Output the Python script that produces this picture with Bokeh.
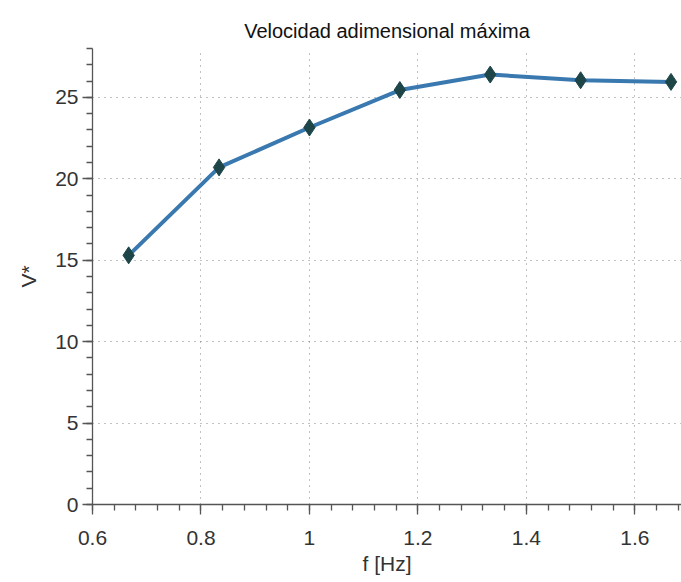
from bokeh.plotting import figure
from bokeh.embed import file_html
from bokeh.resources import INLINE
from bokeh.models import Range1d, SingleIntervalTicker, CustomJSTickFormatter

freq = [2/3, 5/6, 1.0, 7/6, 4/3, 1.5, 5/3]
vstar = [15.3, 20.7, 23.15, 25.45, 26.4, 26.05, 25.95]

title = "Velocidad adimensional máxima"
xlabel = "f [Hz]"
ylabel = "V*"

FONT = "Liberation Sans"

p = figure(width=681, height=582, output_backend="svg", toolbar_location=None,
           x_range=Range1d(0.6, 1.686), y_range=Range1d(0, 28.0),
           min_border_left=92, min_border_right=0, min_border_top=48, min_border_bottom=78,
           title=title)
p.outline_line_color = None
p.background_fill_color = "white"
p.border_fill_color = "white"

p.title.align = "center"
p.title.text_font = FONT
p.title.text_font_size = "20px"
p.title.text_font_style = "normal"
p.title.text_color = "#111111"
p.title.standoff = 14

p.xaxis.ticker = SingleIntervalTicker(interval=0.2, num_minor_ticks=5)
p.yaxis.ticker = SingleIntervalTicker(interval=5, num_minor_ticks=5)
p.xaxis.formatter = CustomJSTickFormatter(code="return String(Math.round(tick*10)/10);")

for ax in (p.xaxis[0], p.yaxis[0]):
    ax.axis_line_color = "#555555"
    ax.axis_line_width = 1.3
    ax.major_tick_line_color = "#555555"
    ax.minor_tick_line_color = "#555555"
    ax.major_tick_line_width = 1.3
    ax.minor_tick_line_width = 1.3
    ax.major_tick_out = 10
    ax.major_tick_in = 0
    ax.minor_tick_out = 6
    ax.minor_tick_in = 0
    ax.major_label_text_font = FONT
    ax.major_label_text_font_size = "21px"
    ax.major_label_text_color = "#333333"
    ax.axis_label_text_font = FONT
    ax.axis_label_text_font_size = "21px"
    ax.axis_label_text_font_style = "normal"
    ax.axis_label_text_color = "#333333"

p.xaxis.axis_label = xlabel
p.yaxis.axis_label = ylabel
p.xaxis.major_label_standoff = 16
p.yaxis.major_label_standoff = 4
p.xaxis.axis_label_standoff = 4
p.yaxis.axis_label_standoff = 12

p.grid.grid_line_color = "#666666"
p.grid.grid_line_dash = "1 5"
p.grid.grid_line_width = 1
p.grid.grid_line_alpha = 0.8

p.line(freq, vstar, line_color="#3A79B0", line_width=4)
p.scatter(freq, vstar, marker="diamond", size=17, fill_color="#1E4649", line_color="#1E4649")

open("out.html", "w").write(file_html(p, INLINE))
